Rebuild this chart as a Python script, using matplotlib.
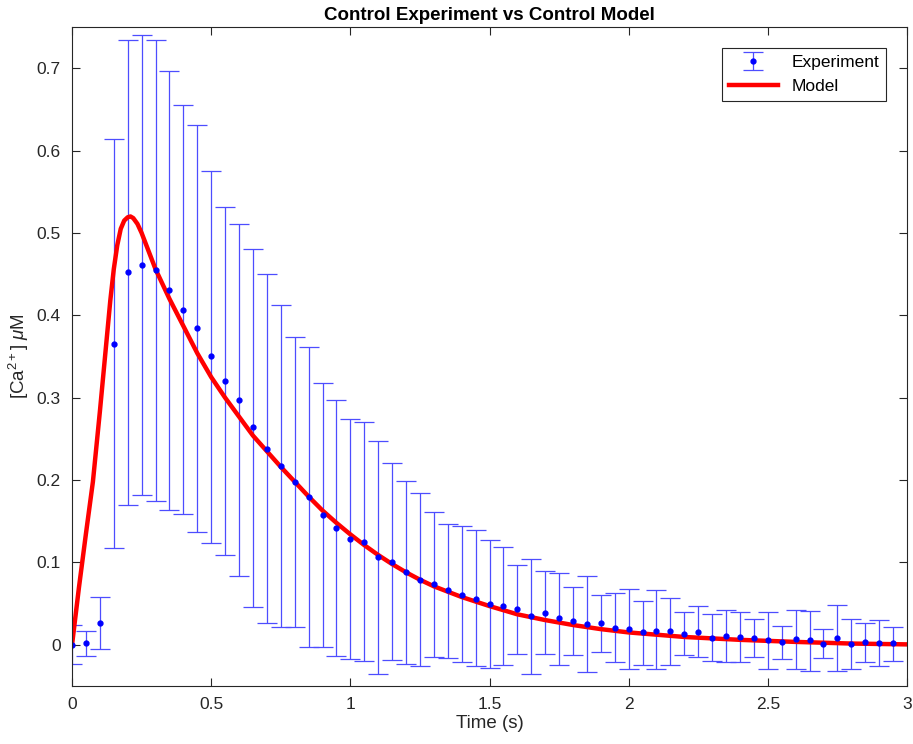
import numpy as np
import matplotlib.pyplot as plt
from matplotlib.ticker import FormatStrFormatter

plt.rcParams['font.family'] = ['Liberation Sans', 'DejaVu Sans']
plt.rcParams['mathtext.fontset'] = 'custom'
plt.rcParams['mathtext.rm'] = 'Liberation Sans'
plt.rcParams['mathtext.it'] = 'Liberation Sans:italic'

# experiment: mean and error bar ends, every 0.05 s
t_exp = np.arange(60) * 0.05
y_exp = [0.000, 0.002, 0.026, 0.365, 0.452, 0.461, 0.455, 0.431, 0.407, 0.384,
         0.350, 0.320, 0.297, 0.264, 0.238, 0.217, 0.198, 0.180, 0.158, 0.142,
         0.128, 0.125, 0.107, 0.100, 0.088, 0.079, 0.074, 0.066, 0.061, 0.056,
         0.050, 0.047, 0.043, 0.035, 0.039, 0.032, 0.029, 0.025, 0.026, 0.020,
         0.019, 0.015, 0.017, 0.017, 0.013, 0.016, 0.0085, 0.011, 0.0097, 0.0085,
         0.0057, 0.0036, 0.0065, 0.0052, 0.0008, 0.008, 0.001, 0.003, 0.002, 0.0016]
y_top = [0.024, 0.017, 0.058, 0.614, 0.734, 0.740, 0.734, 0.697, 0.655, 0.631,
         0.575, 0.531, 0.511, 0.481, 0.450, 0.412, 0.374, 0.361, 0.318, 0.297,
         0.274, 0.271, 0.248, 0.221, 0.199, 0.184, 0.161, 0.147, 0.144, 0.139,
         0.127, 0.119, 0.097, 0.104, 0.090, 0.0875, 0.070, 0.084, 0.060, 0.063,
         0.068, 0.053, 0.066, 0.057, 0.040, 0.047, 0.037, 0.0425, 0.040, 0.0316,
         0.040, 0.023, 0.0425, 0.041, 0.0186, 0.048, 0.031, 0.027, 0.0296, 0.0215]
y_bot = [-0.0235, -0.014, -0.005, 0.117, 0.170, 0.182, 0.175, 0.164, 0.159, 0.137,
         0.124, 0.1085, 0.083, 0.046, 0.026, 0.022, 0.0215, -0.0024, -0.003, -0.014,
         -0.017, -0.020, -0.035, -0.019, -0.023, -0.026, -0.015, -0.016, -0.021, -0.026,
         -0.028, -0.025, -0.011, -0.035, -0.011, -0.024, -0.0125, -0.033, -0.0085, -0.021,
         -0.030, -0.024, -0.030, -0.025, -0.013, -0.015, -0.020, -0.021, -0.021, -0.015,
         -0.030, -0.017, -0.030, -0.032, -0.016, -0.032, -0.030, -0.021, -0.026, -0.020]

# model curve
t_mod = [0, 0.025, 0.05, 0.075, 0.1, 0.125, 0.1375, 0.15, 0.1625, 0.175, 0.1875,
         0.2, 0.21, 0.22, 0.235, 0.25, 0.275, 0.3, 0.35, 0.4, 0.45, 0.5, 0.55, 0.6,
         0.65, 0.7, 0.75, 0.8, 0.85, 0.9, 0.95, 1.0, 1.05, 1.1, 1.15, 1.2, 1.25, 1.3,
         1.4, 1.5, 1.6, 1.7, 1.8, 1.9, 2.0, 2.2, 2.4, 2.6, 2.8, 3.0]
y_mod = [0, 0.07, 0.135, 0.198, 0.283, 0.373, 0.418, 0.456, 0.485, 0.505, 0.515,
         0.519, 0.520, 0.518, 0.511, 0.500, 0.478, 0.456, 0.420, 0.387, 0.354, 0.325, 0.300, 0.277,
         0.254, 0.235, 0.216, 0.198, 0.180, 0.163, 0.148, 0.134, 0.121, 0.109, 0.098, 0.088, 0.079, 0.071,
         0.058, 0.047, 0.037, 0.030, 0.024, 0.019, 0.015, 0.0095, 0.006, 0.0035, 0.0015, 0.0005]

y_exp = np.array(y_exp)
err = [y_exp - np.array(y_bot), np.array(y_top) - y_exp]

fig = plt.figure(figsize=(9.13, 7.44), dpi=100)
ax = fig.add_axes([0.0789, 0.078, 0.9145, 0.8857])

eb = ax.errorbar(t_exp, y_exp, yerr=err, fmt='.', color='blue', ecolor=(0.3, 0.3, 1.0),
                 elinewidth=0.9, capsize=7, capthick=0.9, markersize=7, label='Experiment')
ln, = ax.plot(t_mod, y_mod, color='red', linewidth=3.2, solid_joinstyle='round', label='Model')

ax.set_xlim(0, 3)
ax.set_ylim(-0.05, 0.75)
ax.set_xticks(np.arange(0, 3.01, 0.5))
ax.set_yticks(np.arange(0, 0.71, 0.1))
ax.xaxis.set_major_formatter(FormatStrFormatter('%g'))
ax.yaxis.set_major_formatter(FormatStrFormatter('%g'))
ax.tick_params(direction='in', top=True, right=True, length=6, labelsize=12.5,
               color='0.15', labelcolor='0.15', pad=8)
for s in ax.spines.values():
    s.set_color('0.15')
    s.set_linewidth(0.8)

ax.set_xlabel('Time (s)', fontsize=13.5, color='0.15', labelpad=2)
ax.set_ylabel(r'[Ca$^{2+}$] $\mu$M', fontsize=13.5, color='0.15', labelpad=4)
ax.set_title('Control Experiment vs Control Model', fontsize=13.5, fontweight='bold', pad=5)

leg = ax.legend([eb, ln], ['Experiment', 'Model'], loc='upper right', fancybox=False,
                edgecolor='0.15', fontsize=12.5, borderaxespad=1.2, handlelength=2.8,
                framealpha=1)
leg.get_frame().set_linewidth(0.8)

fig.savefig('out.png', dpi=100)
